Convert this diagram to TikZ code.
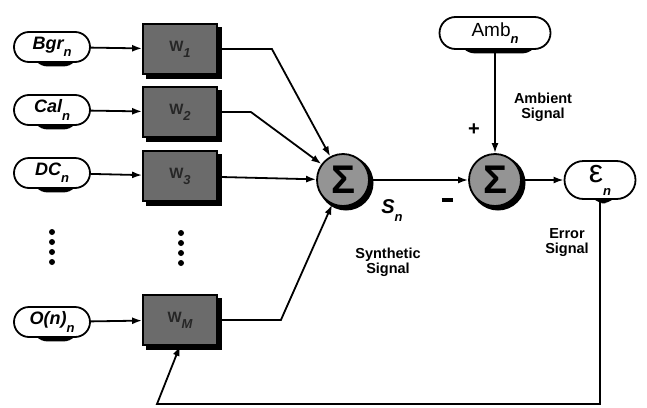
\documentclass[tikz,border=0pt]{standalone}
\usepackage{fontspec}
\setmainfont{Liberation Sans}
\usetikzlibrary{arrows.meta,shapes.misc,backgrounds}

\newcommand\lowsub[1]{\raisebox{-0.4em}{\fontsize{13}{13}\selectfont\bfseries\itshape #1}}

\begin{document}
\begin{tikzpicture}[x=1pt,y=-1pt,
  signal/.style={rounded rectangle,draw,line width=1.8pt,fill=white,
    minimum width=80pt,minimum height=30pt,inner sep=2pt,
    font=\bfseries\itshape\fontsize{18}{18}\selectfont},
  weight/.style={rectangle,draw,line width=1.8pt,fill=black!58,
    minimum width=74pt,minimum height=50pt,
    font=\bfseries\fontsize{15}{15}\selectfont,text=black!85},
  summer/.style={circle,draw,line width=1.8pt,fill=black!42,minimum size=52pt,
    inner sep=0pt,font=\bfseries\fontsize{40}{40}\selectfont},
  conn/.style={line width=1.8pt,-{Latex[length=10pt,width=7pt]}},
  lbl/.style={font=\bfseries\fontsize{14.5}{15}\selectfont,align=center,inner sep=0pt},
  dot/.style={circle,fill=black,inner sep=0pt,minimum size=6pt},
  shadowfill/.style={fill=black}
]
\useasboundingbox (0,0) rectangle (647,407);

% input signals
\node[signal] (bgr) at (52,47)  {Bgr\lowsub{n}};
\node[signal] (cal) at (52,110) {Cal\lowsub{n}};
\node[signal] (dc)  at (52,173) {DC\lowsub{n}};
\node[signal] (on)  at (52,322) {O(n)\lowsub{n}};

% weights
\node[weight] (w1) at (180,49)  {W\lowsub{1}};
\node[weight] (w2) at (180,112) {W\lowsub{2}};
\node[weight] (w3) at (180,176) {W\lowsub{3}};
\node[weight] (wm) at (180,320) {W\lowsub{M}};

% ellipsis dots
\foreach \y in {232,242,252,262} {
  \node[dot] at (52,\y) {};
  \node[dot] at (181,\y+1) {};
}

% summing junctions
\node[summer] (s1) at (343,180) {Σ};
\node[summer] (s2) at (495,180) {Σ};

% ambient and error signals
\node[signal,minimum width=115pt,minimum height=32pt,font=\fontsize{19}{19}\selectfont] (amb) at (495,33) {Amb\lowsub{n}};
\node[signal,minimum width=75pt,minimum height=38pt,font=\fontsize{32}{32}\selectfont] (eps) at (600,180) {ε\lowsub{n}};

% drop shadows, offset down and to the right
\begin{scope}[on background layer]
  \foreach \n in {w1,w2,w3,wm}
    \fill[shadowfill] ([shift={(4,4)}]\n.north west) rectangle ([shift={(4,4)}]\n.south east);
  \foreach \n in {s1,s2}
    \fill[shadowfill] ([shift={(3,3)}]\n.center) circle[radius=27.5];
  \foreach \n/\r in {bgr/15,cal/15,dc/15,on/15,amb/16,eps/19}
    \fill[shadowfill,rounded corners=\r pt] ([shift={(3.5,3.5)}]\n.north west) rectangle ([shift={(3.5,3.5)}]\n.south east);
\end{scope}

% connectors
\draw[conn] (bgr) -- (w1);
\draw[conn] (cal) -- (w2);
\draw[conn] (dc) -- (w3);
\draw[conn] (on) -- (wm);

\draw[conn] (w1.east) -- ++(54,0) -- (s1);
\draw[conn] (w2.east) -- ++(33,0) -- (s1);
\draw[conn] (w3) -- (s1);
\draw[conn] (wm.east) -- ++(63,0) -- (s1);

\draw[conn] (s1) -- (s2);
\draw[conn] (amb) -- (s2);
\draw[conn] (s2) -- (eps);

\coordinate (fb) at (157,404);
\draw[conn] (eps.south) |- (fb) -- (wm.south);

% labels
\node[font=\bfseries\fontsize{20}{20}\selectfont] at (474,130) {+};
\node at (447,200) {\rule{11pt}{4pt}};
\node[lbl] at (543,107) {Ambient\\Signal};
\node[font=\bfseries\itshape\fontsize{20}{20}\selectfont] at (392,211) {S\lowsub{n}};
\node[lbl] at (388,262) {Synthetic\\Signal};
\node[lbl] at (567,243) {Error\\Signal};
\end{tikzpicture}
\end{document}
